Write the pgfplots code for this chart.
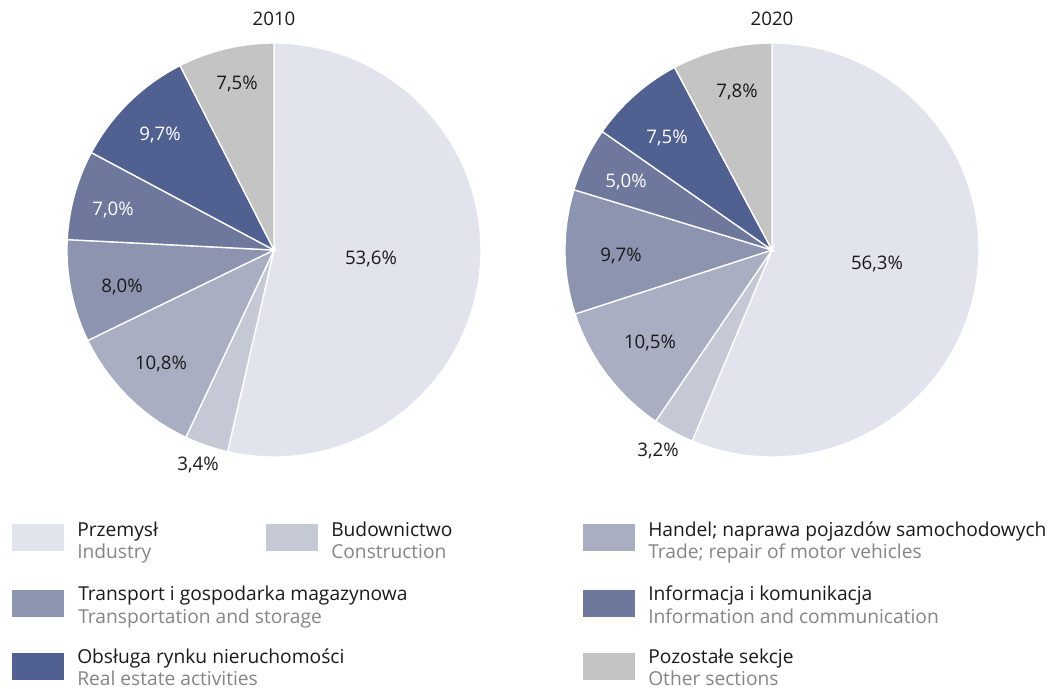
\documentclass[border=0pt]{standalone}
\usepackage{pgfplots}
\pgfplotsset{compat=1.18}
\usepackage{fontspec}
\setmainfont{Open Sans}
\definecolor{cInd}{HTML}{E1E4EC}
\definecolor{cCon}{HTML}{C5C9D6}
\definecolor{cTra}{HTML}{A9AEC3}
\definecolor{cTrn}{HTML}{8D94B0}
\definecolor{cInf}{HTML}{6D789C}
\definecolor{cRea}{HTML}{506091}
\definecolor{cOth}{HTML}{C4C4C4}
\definecolor{txt}{HTML}{1A1A1A}
\definecolor{sub}{HTML}{858585}
% slice: cx, cy, r, start %, end %, colour
\newcommand{\pieslice}[6]{%
  \addplot[fill=#6, draw=white, line width=1pt, domain={3.6*#4}:{3.6*#5}, samples=120, variable=\t]
    ({#1+#3*sin(\t)}, {#2-#3*cos(\t)}) -- (#1,#2) -- cycle;}
\newcommand{\swatch}[3]{%
  \addplot[fill=#3, draw=none] coordinates {(#1,#2) (#1+52,#2) (#1+52,#2+27) (#1,#2+27)} -- cycle;}
\begin{document}
\begin{tikzpicture}
\useasboundingbox (0,0) rectangle (788.25pt,516.75pt);
\begin{axis}[at={(0,0)}, anchor=south west, width=788.25pt, height=516.75pt,
  scale only axis, xmin=0, xmax=1051, ymin=0, ymax=689, y dir=reverse,
  hide axis, clip=false]
% 2010: Industry 53.6, Construction 3.4, Trade 10.8, Transport 8.0, Information 7.0, Real estate 9.7, Other 7.5
\pieslice{274}{250}{207}{0}{53.6}{cInd}
\pieslice{274}{250}{207}{53.6}{57.0}{cCon}
\pieslice{274}{250}{207}{57.0}{67.8}{cTra}
\pieslice{274}{250}{207}{67.8}{75.8}{cTrn}
\pieslice{274}{250}{207}{75.8}{82.8}{cInf}
\pieslice{274}{250}{207}{82.8}{92.5}{cRea}
\pieslice{274}{250}{207}{92.5}{100}{cOth}
% 2020: Industry 56.3, Construction 3.2, Trade 10.5, Transport 9.7, Information 5.0, Real estate 7.5, Other 7.8
\pieslice{772}{250}{207}{0}{56.3}{cInd}
\pieslice{772}{250}{207}{56.3}{59.5}{cCon}
\pieslice{772}{250}{207}{59.5}{70.0}{cTra}
\pieslice{772}{250}{207}{70.0}{79.7}{cTrn}
\pieslice{772}{250}{207}{79.7}{84.7}{cInf}
\pieslice{772}{250}{207}{84.7}{92.2}{cRea}
\pieslice{772}{250}{207}{92.2}{100}{cOth}
% titles and pie labels
\tikzset{pl/.style={font=\fontsize{14pt}{16pt}\selectfont, text=txt}}
\node[pl] at (axis cs:274,19) {2010};
\node[pl] at (axis cs:772,19) {2020};
\node[pl] at (axis cs:371,259) {53,6\%};
\node[pl] at (axis cs:237,84) {7,5\%};
\node[pl, text=white] at (axis cs:160,135) {9,7\%};
\node[pl, text=white] at (axis cs:113,210) {7,0\%};
\node[pl] at (axis cs:122,287) {8,0\%};
\node[pl] at (axis cs:161,364) {10,8\%};
\node[pl] at (axis cs:198,465) {3,4\%};
\node[pl] at (axis cs:877,264) {56,3\%};
\node[pl] at (axis cs:737,92) {7,8\%};
\node[pl, text=white] at (axis cs:667,138) {7,5\%};
\node[pl, text=white] at (axis cs:626,182) {5,0\%};
\node[pl] at (axis cs:621,256) {9,7\%};
\node[pl] at (axis cs:650,343) {10,5\%};
\node[pl] at (axis cs:658,451) {3,2\%};
% legend swatches
\swatch{12}{524}{cInd}
\swatch{266}{524}{cCon}
\swatch{583}{524}{cTra}
\swatch{12}{590}{cTrn}
\swatch{583}{590}{cInf}
\swatch{12}{653}{cRea}
\swatch{583}{653}{cOth}
% legend texts
\tikzset{lt/.style={font=\fontsize{14.4pt}{15pt}\selectfont, text=txt, anchor=base west, inner sep=0pt},
         ls/.style={font=\fontsize{14.4pt}{15pt}\selectfont, text=sub, anchor=base west, inner sep=0pt}}
\node[lt] at (axis cs:77,536) {Przemysł};
\node[ls] at (axis cs:77,558) {Industry};
\node[lt] at (axis cs:331,536) {Budownictwo};
\node[ls] at (axis cs:331,558) {Construction};
\node[lt] at (axis cs:648,536) {Handel; naprawa pojazdów samochodowych};
\node[ls] at (axis cs:648,558) {Trade; repair of motor vehicles};
\node[lt] at (axis cs:78,600) {Transport i gospodarka magazynowa};
\node[ls] at (axis cs:78,623) {Transportation and storage};
\node[lt] at (axis cs:648,600) {Informacja i komunikacja};
\node[ls] at (axis cs:648,623) {Information and communication};
\node[lt] at (axis cs:77,663) {Obsługa rynku nieruchomości};
\node[ls] at (axis cs:77,685) {Real estate activities};
\node[lt] at (axis cs:648,663) {Pozostałe sekcje};
\node[ls] at (axis cs:648,685) {Other sections};
\end{axis}
\end{tikzpicture}
\end{document}
